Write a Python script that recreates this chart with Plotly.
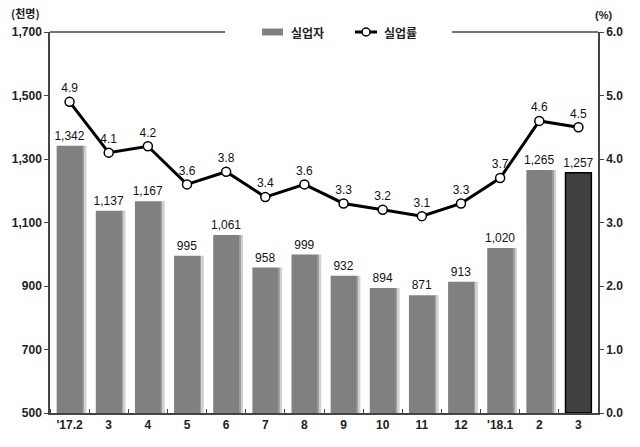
import plotly.graph_objects as go

categories = ["'17.2", "3", "4", "5", "6", "7", "8", "9", "10", "11", "12", "'18.1", "2", "3"]
unemployed = [1342, 1137, 1167, 995, 1061, 958, 999, 932, 894, 871, 913, 1020, 1265, 1257]
rate = [4.9, 4.1, 4.2, 3.6, 3.8, 3.4, 3.6, 3.3, 3.2, 3.1, 3.3, 3.7, 4.6, 4.5]
left_ticks = [500, 700, 900, 1100, 1300, 1500, 1700]
left_ticktext = ["500", "700", "900", "1,100", "1,300", "1,500", "1,700"]
right_ticks = [0, 1, 2, 3, 4, 5, 6]
legend_names = ["실업자", "실업률"]

x = list(range(len(categories)))
n = len(categories)
bar_colors = ["#808080"] * (n - 1) + ["#404040"]
bar_line_colors = ["#808080"] * (n - 1) + ["#000000"]
bar_line_widths = [0] * (n - 1) + [1.5]

tickfont = dict(family="Liberation Sans Narrow, Arial Narrow, Liberation Sans, Arial", size=12, color="#222222", weight="bold")
labfont = dict(family="Liberation Sans, Arial", size=12, color="#111111")
kfont = "Noto Sans CJK KR"

W, H = 548.0, 381.0
def px(xp):
    return (xp - 50) / W
def py(yp):
    return (413 - yp) / H

fig = go.Figure()
# shade strips (gradient imitation)
shade_x = x[:-1]
fig.add_trace(go.Bar(x=shade_x, y=[v - 500 for v in unemployed[:-1]], base=500, width=0.05, offset=0.33,
                     marker=dict(color="#a0a0a0", line=dict(width=0)), showlegend=False, hoverinfo="skip"))
fig.add_trace(go.Bar(x=shade_x, y=[v - 500 for v in unemployed[:-1]], base=500, width=0.05, offset=0.38,
                     marker=dict(color="#d0d0d0", line=dict(width=0)), showlegend=False, hoverinfo="skip"))
fig.add_trace(go.Bar(x=x, y=[v - 500 for v in unemployed], base=500, width=0.66, offset=-0.33, name=legend_names[0],
                     marker=dict(color=bar_colors, line=dict(color=bar_line_colors, width=bar_line_widths)),
                     text=[f"{v:,}" for v in unemployed], textposition="outside", textfont=labfont,
                     constraintext="none", cliponaxis=False, showlegend=False))
fig.add_trace(go.Scatter(x=x, y=rate, yaxis="y2", name=legend_names[1], mode="lines+markers+text",
                         line=dict(color="black", width=3),
                         marker=dict(symbol="circle", size=9, color="white", line=dict(color="black", width=1.5)),
                         text=[f"{v:.1f}" for v in rate], textposition="top center", textfont=labfont,
                         cliponaxis=False, showlegend=False))

line_col = "#444444"
shapes = [
    dict(type="line", xref="paper", yref="paper", x0=0, x1=px(225), y0=1, y1=1,
         line=dict(color=line_col, width=1.5)),
    dict(type="line", xref="paper", yref="paper", x0=px(452), x1=1, y0=1, y1=1,
         line=dict(color=line_col, width=1.5)),
    # legend: bar swatch
    dict(type="rect", xref="paper", yref="paper", x0=px(262), x1=px(283), y0=py(35.5), y1=py(28.5),
         fillcolor="#808080", line=dict(width=0)),
    # legend: line swatch
    dict(type="line", xref="paper", yref="paper", x0=px(355), x1=px(377), y0=py(32), y1=py(32),
         line=dict(color="black", width=3)),
    dict(type="circle", xref="paper", yref="paper", x0=px(362), x1=px(370), y0=py(36), y1=py(28),
         fillcolor="white", line=dict(color="black", width=1.5)),
]

fig.update_layout(
    width=640, height=447,
    margin=dict(l=50, r=42, t=32, b=34),
    paper_bgcolor="white", plot_bgcolor="white",
    barmode="overlay",
    showlegend=False,
    xaxis=dict(range=[-0.5, n - 0.5], tickmode="array", tickvals=x, ticktext=categories,
               tickfont=tickfont, ticks="", showgrid=False, zeroline=False,
               showline=True, linecolor=line_col, linewidth=1.5,
               minor=dict(tick0=0.5, dtick=1, ticks="inside", ticklen=4, tickcolor=line_col)),
    yaxis=dict(range=[500, 1700], tickmode="array", tickvals=left_ticks, ticktext=left_ticktext,
               tickfont=tickfont, ticks="outside", ticklen=4, tickcolor=line_col,
               showgrid=False, zeroline=False, showline=True, linecolor=line_col, linewidth=1.5),
    yaxis2=dict(range=[0, 6], overlaying="y", side="right", tickmode="array", tickvals=right_ticks,
                ticktext=[f"{v:.1f}" for v in right_ticks], tickfont=tickfont,
                ticks="outside", ticklen=4, tickcolor=line_col,
                showgrid=False, zeroline=False, showline=True, linecolor=line_col, linewidth=1.5),
    shapes=shapes,
    annotations=[
        dict(text="(천명)", xref="paper", yref="paper", x=px(25), y=py(13),
             showarrow=False, xanchor="center", yanchor="middle",
             font=dict(family=kfont, size=11, color="#222222", weight="bold")),
        dict(text="(%)", xref="paper", yref="paper", x=px(603), y=py(15),
             showarrow=False, xanchor="center", yanchor="middle",
             font=dict(family=tickfont["family"], size=11, color="#222222", weight="bold")),
        dict(text=legend_names[0], xref="paper", yref="paper", x=px(289), y=py(32),
             showarrow=False, xanchor="left", yanchor="middle",
             font=dict(family=kfont, size=12, color="#222222", weight="bold")),
        dict(text=legend_names[1], xref="paper", yref="paper", x=px(382), y=py(32),
             showarrow=False, xanchor="left", yanchor="middle",
             font=dict(family=kfont, size=12, color="#222222", weight="bold")),
    ],
)

fig.write_html("out.html")
